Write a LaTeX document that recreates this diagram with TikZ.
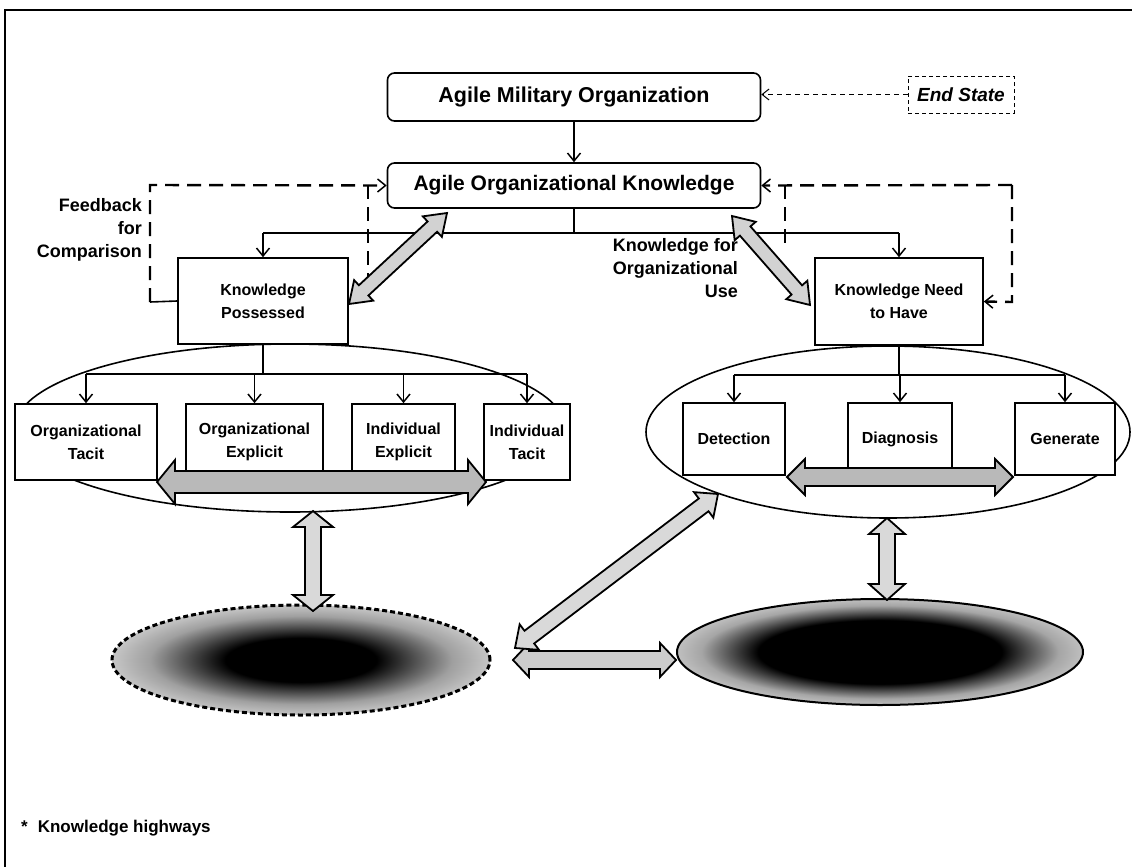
\documentclass[tikz,border=0pt]{standalone}
\usepackage{fontspec}
\setmainfont{Liberation Sans}
\usetikzlibrary{calc,arrows.meta,shapes.geometric}
\pgfdeclareradialshading{leftcore}{\pgfpoint{0bp}{0bp}}{color(0bp)=(black); color(10bp)=(black); color(20bp)=(gray!75); color(25bp)=(gray!45); color(50bp)=(gray!45)}
\pgfdeclareradialshading{rightcore}{\pgfpoint{0bp}{0bp}}{color(0bp)=(black); color(15bp)=(black); color(22bp)=(gray!70); color(25bp)=(gray!50); color(50bp)=(gray!50)}
\newcommand{\hollowarrow}[6]{%
  \coordinate (ha) at ($(#1)!#3!(#2)$);
  \coordinate (hb) at ($(#2)!#3!(#1)$);
  \draw[hollow, fill=#6] (#1) -- ($(ha)!#4!90:(#2)$) -- ($(ha)!#5!90:(#2)$) -- ($(hb)!#5!-90:(#1)$) -- ($(hb)!#4!-90:(#1)$) -- (#2) -- ($(hb)!#4!90:(#1)$) -- ($(hb)!#5!90:(#1)$) -- ($(ha)!#5!-90:(#2)$) -- ($(ha)!#4!-90:(#2)$) -- cycle;
}
\begin{document}
\begin{tikzpicture}[x=1pt,y=-1pt,
  every node/.style={font=\bfseries\fontsize{16}{23}\selectfont, align=center},
  box/.style={draw, line width=1.6pt, inner sep=0pt, fill=white},
  rbox/.style={box, rounded corners=7pt},
  conn/.style={line width=1.6pt},
  arr/.style={conn, -{Straight Barb[length=8pt,width=13pt,line width=1.5pt]}},
  fb/.style={line width=2.4pt, dash pattern=on 14pt off 8pt},
  fbarr/.style={fb, -{Straight Barb[length=8pt,width=13pt,line width=1.5pt]}},
  hollow/.style={draw, line width=1.8pt, line join=miter},
  lbl/.style={font=\bfseries\fontsize{18}{23}\selectfont, align=right, inner sep=0pt}
]
\useasboundingbox (0,0) rectangle (1132,867);
\draw[line width=2.5pt] (5,867) -- (5,10) -- (1132,10);

% top boxes
\node[rbox, minimum width=373, minimum height=48, font=\bfseries\fontsize{21.5}{23}\selectfont] (amo) at (574,97) {Agile Military Organization};
\node[draw, line width=1pt, dash pattern=on 4pt off 3pt, minimum width=106, minimum height=37, inner sep=0pt, font=\bfseries\itshape\fontsize{19}{22}\selectfont] (es) at (961,94.5) {End State};
\draw[line width=1pt, dash pattern=on 5pt off 4pt, -{Straight Barb[length=7pt,width=11pt,line width=1pt]}] (es.west) -- (es.west -| amo.east);
\node[rbox, minimum width=373, minimum height=45, font=\bfseries\fontsize{21}{23}\selectfont] (aok) at (574,185.5) {Agile Organizational Knowledge};
\draw[arr] (amo) -- (aok);

% second level
\node[box, minimum width=170, minimum height=86] (kp) at (263,301) {Knowledge\\Possessed};
\node[box, minimum width=168, minimum height=87] (knh) at (899,301.5) {Knowledge Need\\to Have};
\coordinate (split) at (574,233);
\draw[conn] (aok.south) -- (split);
\draw[conn] (kp.north |- split) -- (knh.north |- split);
\draw[arr] (kp.north |- split) -- (kp.north);
\draw[arr] (knh.north |- split) -- (knh.north);

% feedback loops
\coordinate (fbl) at (150,302);
\coordinate (fbtl) at (150,185);
\draw[conn] (kp.west) -- (fbl);
\draw[fbarr] (fbl) -- (fbtl) -- (aok.west);
\coordinate (fbm) at (368,185);
\coordinate (fbme) at (368,290);
\draw[fb] (fbm) -- (fbme);
\coordinate (fbr) at (1012,185);
\coordinate (fbrb) at (1012,302);
\draw[fbarr] (fbr) -- (aok.east);
\draw[fbarr] (fbr) -- (fbrb) -- (knh.east);
\coordinate (fbm2) at (785,185);
\coordinate (fbm2e) at (785,250);
\draw[fb] (fbm2) -- (fbm2e);

\node[lbl, anchor=east] (fbt) at (142,230) {Feedback\\for\\Comparison};
\node[lbl, anchor=east] (kou) at (738,268) {Knowledge for\\Organizational\\Use};

% gray arrows to AOK
\coordinate (g1a) at (349,304);
\coordinate (g1b) at (447,213);
\hollowarrow{g1a}{g1b}{20pt}{14pt}{7pt}{gray!35}
\coordinate (g2a) at (732,216);
\coordinate (g2b) at (810,305);
\hollowarrow{g2a}{g2b}{20pt}{14pt}{7pt}{gray!35}

% ellipses
\node[draw, ellipse, line width=1.6pt, minimum width=550, minimum height=168, inner sep=0pt] (e1) at (290,428) {};
\node[draw, ellipse, line width=1.6pt, minimum width=484, minimum height=172, inner sep=0pt] (e2) at (888,432) {};

% left group
\node[box, minimum width=142, minimum height=76] (ot) at (86,442) {Organizational\\Tacit};
\node[box, minimum width=137, minimum height=76] (oe) at (254.5,442) {Organizational\\Explicit};
\node[box, minimum width=103, minimum height=76] (ie) at (403.5,442) {Individual\\Explicit};
\node[box, minimum width=86, minimum height=76] (it) at (527,442) {Individual\\Tacit};
\coordinate (split2) at (263,374);
\draw[conn] (kp.south) -- (split2);
\draw[conn] (ot.north |- split2) -- (it.north |- split2);
\foreach \n in {ot,oe,ie,it} \draw[arr] (\n.north |- split2) -- (\n.north);
\coordinate (g3a) at (157,482);
\coordinate (g3b) at (486,482);
\hollowarrow{g3a}{g3b}{18pt}{22pt}{11pt}{gray!55}

% right group
\node[box, minimum width=102, minimum height=72] (det) at (734,439) {Detection};
\node[box, minimum width=104, minimum height=72] (dia) at (900,439) {Diagnosis};
\node[box, minimum width=100, minimum height=72] (gen) at (1065,439) {Generate};
\coordinate (split3) at (899,375);
\draw[conn] (knh.south) -- (split3);
\draw[conn] (det.north |- split3) -- (gen.north |- split3);
\foreach \n in {det,dia,gen} \draw[arr] (\n.north |- split3) -- (\n.north);
\coordinate (g4a) at (787,477);
\coordinate (g4b) at (1013,477);
\hollowarrow{g4a}{g4b}{18pt}{18pt}{9pt}{gray!55}

% bottom ellipses
\node[ellipse, shade, shading=leftcore, draw, line width=3pt, dash pattern=on 5pt off 3pt, minimum width=378, minimum height=110, inner sep=0pt] (b1) at (301,660) {};
\node[ellipse, shade, shading=rightcore, draw, line width=2pt, minimum width=406, minimum height=106, inner sep=0pt] (b2) at (880,652) {};

\coordinate (g5a) at (313,511);
\coordinate (g5b) at (313,611);
\hollowarrow{g5a}{g5b}{16pt}{20pt}{8pt}{gray!30}
\coordinate (g6a) at (887,518);
\coordinate (g6b) at (887,600);
\hollowarrow{g6a}{g6b}{16pt}{18pt}{8pt}{gray!30}
\coordinate (g7a) at (513,660);
\coordinate (g7b) at (676,660);
\hollowarrow{g7a}{g7b}{16pt}{17pt}{9pt}{gray!40}
\coordinate (g8a) at (515,648);
\coordinate (g8b) at (718,494);
\hollowarrow{g8a}{g8b}{18pt}{16pt}{8pt}{gray!30}

\node[anchor=west, font=\bfseries\fontsize{17}{20}\selectfont, inner sep=0pt] (note) at (21,828) {*\hspace{10pt}Knowledge highways};
\end{tikzpicture}
\end{document}
